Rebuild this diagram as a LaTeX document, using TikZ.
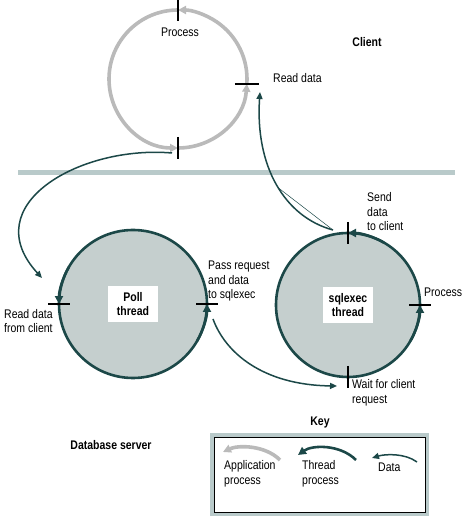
\documentclass[tikz,border=0pt]{standalone}
\usepackage{fontspec}
\setmainfont{Liberation Sans}[FakeStretch=0.84]
\usetikzlibrary{arrows.meta,calc}
\definecolor{threadcol}{RGB}{28,72,72}
\definecolor{appcol}{RGB}{186,186,186}
\definecolor{fillcol}{RGB}{197,207,206}
\definecolor{rulecol}{RGB}{185,202,202}
\begin{document}
\begin{tikzpicture}[x=1pt,y=1pt,
  every node/.style={font=\fontsize{12.5}{14.5}\selectfont, align=left, inner sep=0pt},
  ring/.style={circle, inner sep=0pt, outer sep=0pt, minimum size=#1},
  threadring/.style={ring=#1, fill=fillcol, draw=threadcol, line width=2.6pt},
  appline/.style={draw=appcol, line width=3.6pt, -{Triangle[length=8pt,width=8pt]}},
  threadline/.style={draw=threadcol, line width=2.6pt, -{Triangle[length=8pt,width=8pt]}},
  dataline/.style={draw=threadcol, line width=1.5pt, -{Triangle[length=7pt,width=6pt]}},
  tickmark/.style={draw=black, line width=1.6pt},
  namebox/.style={fill=white, font=\fontsize{12.5}{14.5}\selectfont\bfseries, align=center, minimum width=50pt, minimum height=36pt},
  heading/.style={font=\fontsize{12.5}{14.5}\selectfont\bfseries}]
\useasboundingbox (0,0) rectangle (468,517);

\node[ring=138pt] (client) at (178,438) {};
\draw[appline] (client.90) arc[start angle=90, end angle=270, radius=69pt];
\draw[appline] (client.270) arc[start angle=270, end angle=356, radius=69pt];
\draw[appline] (client.-4) arc[start angle=-4, end angle=90, radius=69pt];
\draw[tickmark] ($(client.90)+(0,11)$) -- ($(client.90)+(0,-11)$);
\draw[tickmark] ($(client.270)+(0,11)$) -- ($(client.270)+(0,-11)$);
\draw[tickmark] ($(client.-4)+(-12,0)$) -- ($(client.-4)+(12,0)$);
\node (procc) at (180,485) {Process};
\node[anchor=west] (readc) at (273,439) {Read data};
\node[heading] (clientlbl) at (367,475) {Client};

\draw[rulecol, line width=5pt] (18,344) -- (455,344);

\node[threadring=148pt] (poll) at (133,213) {};
\node[namebox] (polllbl) at (poll) {Poll\\thread};
\draw[threadline] (poll.150) arc[start angle=150, end angle=180, radius=74pt];
\draw[threadline] (poll.330) arc[start angle=330, end angle=360, radius=74pt];
\draw[tickmark] ($(poll.180)+(-11,0)$) -- ($(poll.180)+(11,0)$);
\draw[tickmark] ($(poll.0)+(-11,0)$) -- ($(poll.0)+(11,0)$);

\node[threadring=144pt] (sqlexec) at (348,212) {};
\node[namebox] (sqllbl) at (sqlexec) {sqlexec\\thread};
\draw[threadline] (sqlexec.60) arc[start angle=60, end angle=90, radius=72pt];
\draw[threadline] (sqlexec.-30) arc[start angle=-30, end angle=0, radius=72pt];
\draw[tickmark] ($(sqlexec.90)+(0,11)$) -- ($(sqlexec.90)+(0,-11)$);
\draw[tickmark] ($(sqlexec.270)+(0,11)$) -- ($(sqlexec.270)+(0,-11)$);
\draw[tickmark] ($(sqlexec.0)+(-11,0)$) -- ($(sqlexec.0)+(11,0)$);

\node[anchor=west] (readp) at (4,196) {Read data\\from client};
\node[anchor=west] (passp) at (208,236) {Pass request\\and data\\to sqlexec};
\node[anchor=west] (sends) at (367,305) {Send\\data\\to client};
\node[anchor=west] (procs) at (424,225) {Process};
\node[anchor=west] (waits) at (352,124) {Wait for client\\request};

\coordinate (fromclient) at (172,364);
\coordinate (intopoll) at (42,239);
\draw[dataline] (fromclient) .. controls (80,372) and (-25,312) .. (intopoll);
\coordinate (fromsql) at (333,287);
\coordinate (intoclient) at (260,425);
\draw[dataline] (fromsql) .. controls (285,300) and (255,350) .. (intoclient) coordinate[pos=0.47] (kink);
\draw[threadcol, line width=0.5pt] (fromsql) -- (kink);
\coordinate (frompoll) at (213,198);
\coordinate (intosql) at (337,131);
\draw[dataline] (frompoll) .. controls (225,165) and (262,132) .. (intosql);

\node[heading] (keylbl) at (320,95) {Key};
\node[heading] (dblbl) at (111,72) {Database server};
\draw[rulecol, line width=4pt] (212,82) rectangle (427,3);
\draw[black, line width=0.8pt] (214,80) rectangle (425,5);
\draw[appline] (280,57) .. controls (265,72) and (238,72) .. (223,65);
\draw[threadline] (356,57) .. controls (340,73) and (312,72) .. (298,62);
\draw[dataline] (417,55) .. controls (405,64) and (385,63) .. (372,59);
\node[anchor=west] (appkey) at (224,43) {Application\\process};
\node[anchor=west] (threadkey) at (302,43) {Thread\\process};
\node[anchor=west] (datakey) at (378,50) {Data};
\end{tikzpicture}
\end{document}
